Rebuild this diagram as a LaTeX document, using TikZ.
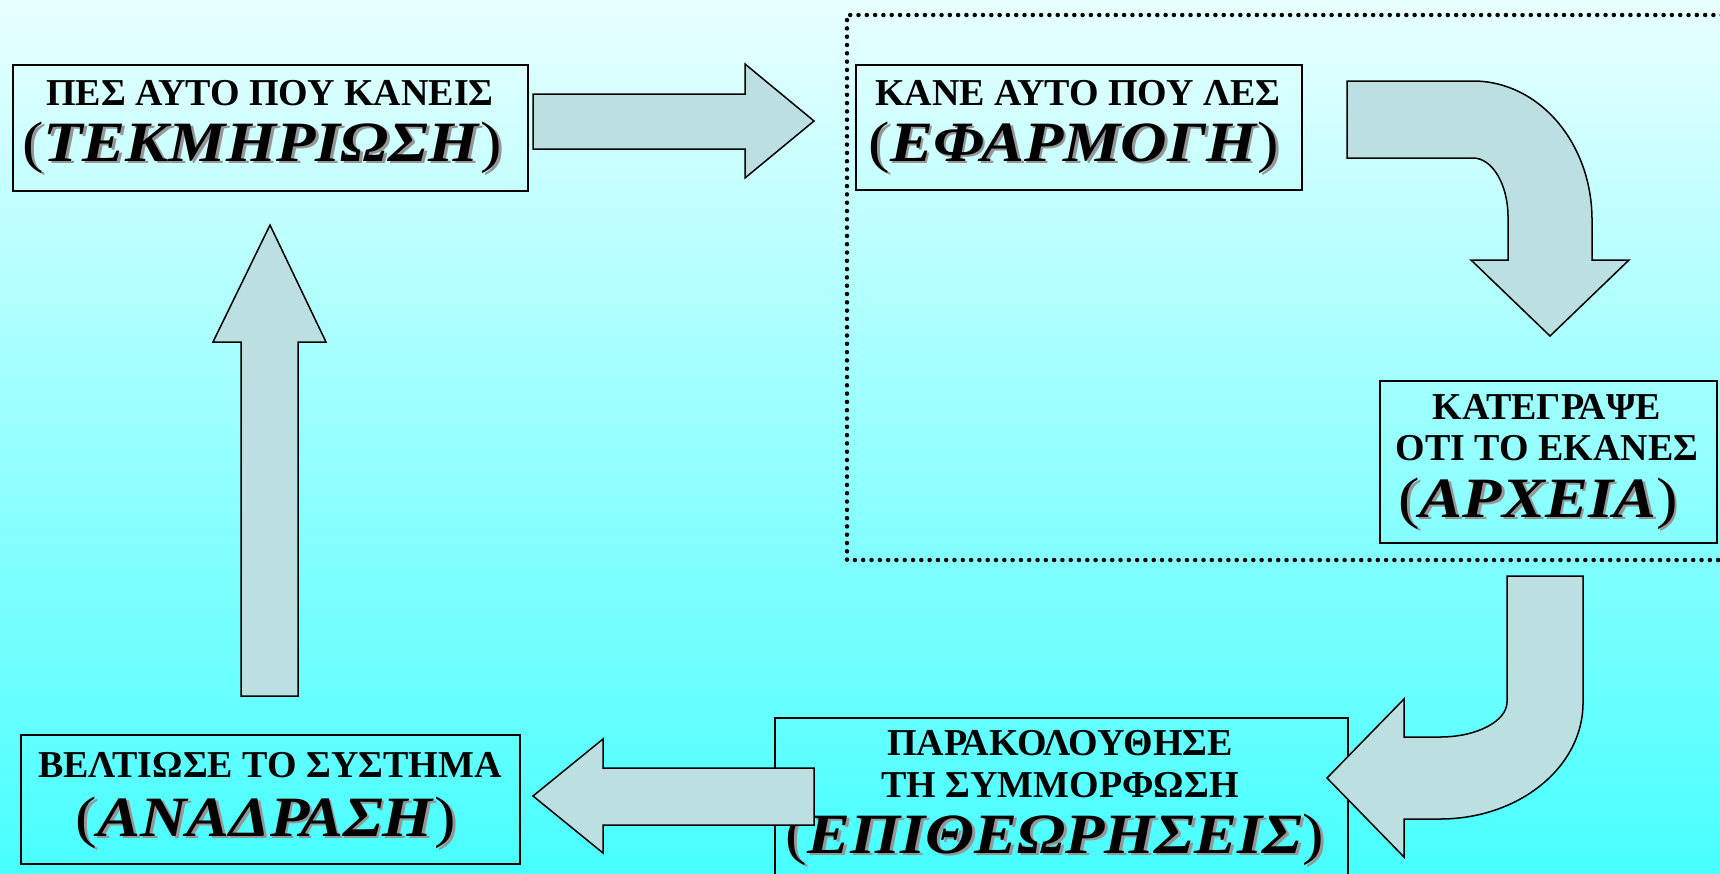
\documentclass[tikz,border=0pt]{standalone}
\usepackage{graphicx}
\usepackage{fontspec}
\setmainfont{Liberation Serif}
\definecolor{bgtop}{RGB}{232,255,255}
\definecolor{bgbot}{RGB}{72,255,255}
\definecolor{arrowfill}{RGB}{188,224,226}
\definecolor{shadowgray}{RGB}{150,150,150}
\newcommand\shadowed[1]{\scalebox{1.13}[1]{\leavevmode\rlap{\kern2.5pt\raisebox{-2.5pt}{\color{shadowgray}#1}}#1}}
\newcommand\bigword[1]{{\mdseries(}\textit{#1}{\mdseries)}}
\tikzset{
  box/.style={draw=black, line width=1.5pt, rectangle, inner sep=0pt, anchor=north west},
  blockarrow/.style={draw=black, line width=1.5pt, fill=arrowfill, line join=miter},
  smalltxt/.style={font=\bfseries\fontsize{38}{40}\selectfont, anchor=base, inner sep=0pt},
  bigtxt/.style={font=\bfseries\fontsize{57}{60}\selectfont, anchor=base, inner sep=0pt},
  dotline/.style={line width=4.5pt, line cap=round, dash pattern=on 0pt off 8.3pt}
}
\begin{document}
\begin{tikzpicture}[x=1pt,y=-1pt]
\clip (0,0) rectangle (1720,873);
\shade[top color=bgtop, bottom color=bgbot] (0,0) rectangle (1720,873);
% dotted region
\draw[dotline] (1730,15) -- (847,15) -- (847,560) -- (1730,560);
% boxes
\node[box, minimum width=515pt, minimum height=126pt] (b1) at (12,64) {};
\node[box, minimum width=446pt, minimum height=125pt] (b2) at (855,64) {};
\node[box, minimum width=337pt, minimum height=162pt] (b3) at (1379,380) {};
\node[box, minimum width=573pt, minimum height=200pt] (b4) at (774,717) {};
\node[box, minimum width=499pt, minimum height=129pt] (b5) at (20,734) {};
% texts
\node[smalltxt] (t1a) at (270,105) {ΠΕΣ ΑΥΤΟ ΠΟΥ ΚΑΝΕΙΣ};
\node[bigtxt] (t1b) at (262,161) {\shadowed{\bigword{ΤΕΚΜΗΡΙΩΣΗ}}};
\node[smalltxt] (t2a) at (1078,105) {ΚΑΝΕ ΑΥΤΟ ΠΟΥ ΛΕΣ};
\node[bigtxt] (t2b) at (1074,161) {\shadowed{\bigword{ΕΦΑΡΜΟΓΗ}}};
\node[smalltxt] (t3a) at (1547,419) {ΚΑΤΕΓΡΑΨΕ};
\node[smalltxt] (t3b) at (1547,460) {ΟΤΙ ΤΟ ΕΚΑΝΕΣ};
\node[bigtxt] (t3c) at (1538,517) {\shadowed{\bigword{ΑΡΧΕΙΑ}}};
\node[smalltxt] (t4a) at (1060,755) {ΠΑΡΑΚΟΛΟΥΘΗΣΕ};
\node[smalltxt] (t4b) at (1060,797) {ΤΗ ΣΥΜΜΟΡΦΩΣΗ};
\node[bigtxt] (t4c) at (1055,853) {\shadowed{\bigword{ΕΠΙΘΕΩΡΗΣΕΙΣ}}};
\node[smalltxt] (t5a) at (270,777) {ΒΕΛΤΙΩΣΕ ΤΟ ΣΥΣΤΗΜΑ};
\node[bigtxt] (t5b) at (266,836) {\shadowed{\bigword{ΑΝΑΔΡΑΣΗ}}};
% arrows
\draw[blockarrow] (533,94) -- (745,94) -- (745,64) -- (814,121) -- (745,178) -- (745,149) -- (533,149) -- cycle;
\draw[blockarrow] (241,696) -- (241,342) -- (213,342) -- (270,225) -- (326,342) -- (298,342) -- (298,696) -- cycle;
\draw[blockarrow] (814,768) -- (603,768) -- (603,739) -- (533,796) -- (603,853) -- (603,825) -- (814,825) -- cycle;
\draw[blockarrow] (1347,81) -- (1473,81) .. controls (1539,81) and (1592,143) .. (1592,220) -- (1592,260) -- (1629,260) -- (1550,336) -- (1471,260) -- (1508,260) -- (1508,217) .. controls (1508,184) and (1492,158) .. (1473,158) -- (1347,158) -- cycle;
\draw[blockarrow] (1507,576) -- (1583,576) -- (1583,703) .. controls (1583,767) and (1519,819) .. (1440,819) -- (1404,819) -- (1404,857) -- (1327,778) -- (1404,699) -- (1404,737) -- (1440,737) .. controls (1477,737) and (1507,721) .. (1507,702) -- cycle;
\end{tikzpicture}
\end{document}
